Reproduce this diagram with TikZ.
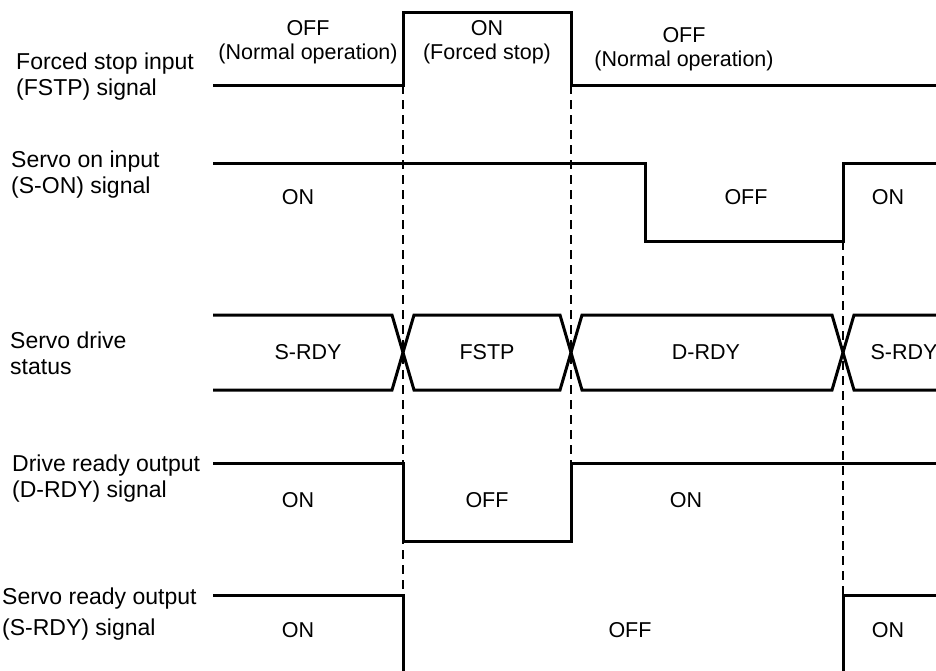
\documentclass[tikz,border=0pt]{standalone}
\usepackage{fontspec}
\setmainfont{Liberation Sans}
\usepackage{tikz}
\usetikzlibrary{
    positioning,
    calc
}

\tikzset{
    wave/.style={line width=3pt, line join=miter},
    guide/.style={line width=1.8pt, dash pattern=on 9pt off 6pt},
    signame/.style={anchor=west, align=left, inner sep=0pt,
        font=\fontsize{23}{26}\selectfont},
    state/.style={align=center, inner sep=0pt,
        font=\fontsize{21.5}{24.5}\selectfont}
}

\begin{document}
\begin{tikzpicture}[x=1pt, y=-1pt]
                \useasboundingbox (0,0) rectangle (936,670);

                \draw[guide] (403,85) -- (403,590);
                \draw[guide] (571,85) -- (571,463);
                \draw[guide] (843,241) -- (843,595);

                \draw[wave] (213,85) -- (403,85) -- (403,12) -- (571,12) -- (571,85) -- (936,85);
                \draw[wave] (213,163) -- (645,163) -- (645,241) -- (843,241) -- (843,163) -- (936,163);
                \draw[wave] (213,315) -- (392,315) -- (414,390) -- (560,390) -- (582,315) -- (832,315) -- (854,390) -- (936,390);
                \draw[wave] (213,390) -- (392,390) -- (414,315) -- (560,315) -- (582,390) -- (832,390) -- (854,315) -- (936,315);
                \draw[wave] (213,463) -- (403,463) -- (403,541) -- (571,541) -- (571,463) -- (936,463);
                \draw[wave] (213,595) -- (403,595) -- (403,672) -- (843,672) -- (843,595) -- (936,595);

                \node[signame] (fstplbl) at (16,77) {Forced stop input\\(FSTP) signal};
                \node[signame] (sonlbl) at (11,175) {Servo on input\\(S-ON) signal};
                \node[signame] (statlbl) at (10,353) {Servo drive\\status};
                \node[signame] (drdylbl) at (12,479) {Drive ready output\\(D-RDY) signal};
                \node[signame] (srdylbl) at (2,614) {Servo ready output\\[5pt](S-RDY) signal};

                \node[state] (fstpa) at (308,42) {OFF\\(Normal operation)};
                \node[state] (fstpb) at (487,42) {ON\\(Forced stop)};
                \node[state] (fstpc) at (684,49) {OFF\\(Normal operation)};

                \node[state] (sona) at (298,197) {ON};
                \node[state] (sonb) at (746,197) {OFF};
                \node[state] (sonc) at (888,197) {ON};

                \node[state] (stata) at (308,352) {S-RDY};
                \node[state] (statb) at (487,352) {FSTP};
                \node[state] (statc) at (706,352) {D-RDY};
                \node[state] (statd) at (904,352) {S-RDY};

                \node[state] (drdya) at (298,500) {ON};
                \node[state] (drdyb) at (487,500) {OFF};
                \node[state] (drdyc) at (686,500) {ON};

                \node[state] (srdya) at (298,630) {ON};
                \node[state] (srdyb) at (630,630) {OFF};
                \node[state] (srdyc) at (888,630) {ON};
            \end{tikzpicture}
\end{document}
